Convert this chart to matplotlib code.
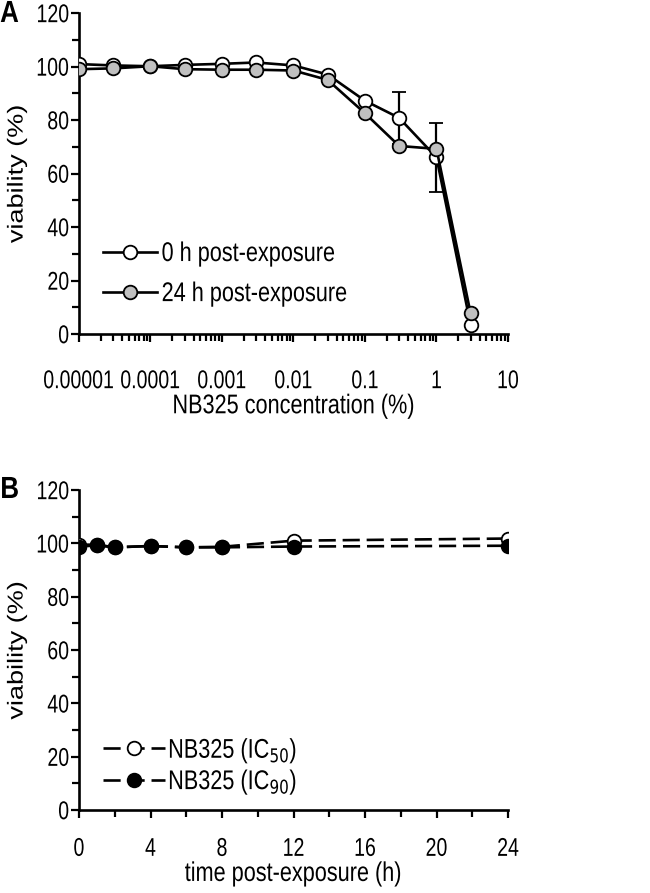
import numpy as np
import matplotlib
matplotlib.use("Agg")
import matplotlib.pyplot as plt
from matplotlib.ticker import FixedLocator, NullFormatter, MultipleLocator
from matplotlib.lines import Line2D
from matplotlib.patheffects import AbstractPathEffect
from matplotlib.transforms import Affine2D

plt.rcParams['font.family'] = ['Liberation Sans', 'DejaVu Sans']
FS = 19.5      # labels and legend
FS_TICK = 15   # tick labels (stretched taller when drawn)

# panel A: viability vs concentration
conc = [1e-5, 3e-5, 1e-4, 3e-4, 1e-3, 3e-3, 1e-2, 3e-2, 0.1, 0.3, 1, 3]
via_0h = [100.9, 100.4, 100.1, 100.6, 101.0, 101.5, 100.4, 97.0, 87.2, 80.8, 66.0, 3.4]
err_0h = [0, 0, 0, 0, 0, 0, 0, 0, 0, 9.6, 12.8, 0]
via_24h = [99.0, 99.3, 100.1, 99.0, 98.8, 98.8, 98.5, 95.0, 82.5, 70.3, 69.2, 7.7]
conc_ticks = [1e-5, 1e-4, 1e-3, 1e-2, 0.1, 1, 10]
conc_labels = ["0.00001", "0.0001", "0.001", "0.01", "0.1", "1", "10"]

# panel B: viability vs time
hours = [0, 1, 2, 4, 6, 8, 12, 24]
via_ic50 = [99.5, 99.5, 98.5, 99.0, 98.5, 98.7, 101.0, 101.8]
via_ic90 = [98.8, 99.2, 98.5, 99.0, 98.5, 98.5, 98.8, 99.1]


class Squeeze(AbstractPathEffect):
    # narrow the glyphs like the condensed lettering of the original
    def __init__(self, sx=0.8, sy=1.0, anchor="center"):
        super().__init__()
        self.sx, self.sy, self.anchor = sx, sy, anchor

    def draw_path(self, renderer, gc, tpath, affine, rgbFace=None):
        ext = tpath.get_extents()
        ax_ = {"left": ext.x0, "center": (ext.x0 + ext.x1) / 2, "right": ext.x1}[self.anchor]
        ay_ = (ext.y0 + ext.y1) / 2
        t = Affine2D().translate(-ax_, -ay_).scale(self.sx, self.sy).translate(ax_, ay_) + affine
        renderer.draw_path(gc, tpath, t, rgbFace)


fig = plt.figure(figsize=(6.5, 8.93), dpi=100)
W, H = 650, 893
axA = fig.add_axes([79 / W, 1 - 334 / H, (508 - 79) / W, (334 - 13) / H])
axB = fig.add_axes([79 / W, 1 - 810 / H, (508 - 79) / W, (810 - 490) / H])

ms = 9.8
lw = 1.9
dash = (0, (6.5, 2.6))

def style(ax):
    for s in ["top", "right"]:
        ax.spines[s].set_visible(False)
    for s in ["left", "bottom"]:
        ax.spines[s].set_linewidth(1.9)
    ax.tick_params(which="major", direction="out", length=6, width=1.6, labelsize=FS_TICK)
    ax.tick_params(which="minor", direction="out", length=5, width=1.6)
    ax.set_ylim(0, 120)
    ax.yaxis.set_major_locator(MultipleLocator(20))
    ax.yaxis.set_minor_locator(MultipleLocator(10))
    ax.tick_params(axis="y", pad=1)
    ax.set_ylabel("viability (%)", fontsize=FS, labelpad=3)

# ---- panel A
axA.set_xscale("log")
axA.errorbar(conc, via_0h, yerr=err_0h, color="black", lw=lw, marker="o", ms=ms,
             mfc="white", mec="black", mew=1.3, capsize=5, capthick=1.6, elinewidth=1.6,
             zorder=3)
axA.plot(conc, via_24h, color="black", lw=lw, marker="o", ms=ms,
         mfc="#c0c0c0", mec="black", mew=1.3, zorder=4)
axA.set_xlim(1e-5, 10)
axA.xaxis.set_major_locator(FixedLocator(conc_ticks))
axA.set_xticklabels(conc_labels)
minors = [m * 10.0 ** e for e in range(-5, 1) for m in range(2, 10)]
axA.xaxis.set_minor_locator(FixedLocator(minors))
axA.xaxis.set_minor_formatter(NullFormatter())
style(axA)
axA.tick_params(axis="x", which="major", pad=21)
axA.set_xlabel("NB325 concentration (%)", fontsize=FS, labelpad=2)

hA = [Line2D([], [], color="black", lw=lw, marker="o", ms=ms, mfc="white", mec="black", mew=1.3),
      Line2D([], [], color="black", lw=lw, marker="o", ms=ms, mfc="#c0c0c0", mec="black", mew=1.3)]
legA = axA.legend(hA, ["0 h post-exposure", "24 h post-exposure"], loc="lower left",
                  bbox_to_anchor=(0.031, 0.05), frameon=False, handlelength=2.0,
                  handletextpad=0.15, labelspacing=0.52, fontsize=FS, borderaxespad=0)

# ---- panel B
axB.plot(hours, via_ic50, color="black", lw=lw, ls=dash, marker="o", ms=ms,
         mfc="white", mec="black", mew=1.3, zorder=3)
axB.plot(hours, via_ic90, color="black", lw=lw, ls=dash, marker="o", ms=ms,
         mfc="black", mec="black", mew=1.3, zorder=4)
axB.set_xlim(0, 24)
axB.xaxis.set_major_locator(MultipleLocator(4))
axB.xaxis.set_minor_locator(MultipleLocator(2))
style(axB)
axB.tick_params(axis="x", which="major", pad=15)
axB.set_xlabel("time post-exposure (h)", fontsize=FS, labelpad=2)
hB = [Line2D([], [], color="black", lw=lw, ls=dash, marker="o", ms=ms, mfc="white", mec="black", mew=1.3),
      Line2D([], [], color="black", lw=lw, ls=dash, marker="o", ms=ms, mfc="black", mec="black", mew=1.3)]
legB = axB.legend(hB, ["NB325 (IC$_{50}$)", "NB325 (IC$_{90}$)"], loc="lower left",
                  bbox_to_anchor=(0.03, 0.006), frameon=False, handlelength=2.3,
                  handletextpad=0.1, labelspacing=0.05, fontsize=FS, borderaxespad=0)

tA = fig.text(0 / W, 1 - 14 / H, "A", fontsize=22, fontweight="bold", va="center", ha="left")
tB = fig.text(0 / W, 1 - 490 / H, "B", fontsize=22, fontweight="bold", va="center", ha="left")

fig.canvas.draw()
sy_t = 18.5 / FS_TICK
sx_t = 0.76 * sy_t
for ax in (axA, axB):
    for lbl in ax.get_xticklabels():
        lbl.set_path_effects([Squeeze(sx_t, sy_t, "center")])
    for lbl in ax.get_yticklabels():
        lbl.set_path_effects([Squeeze(sx_t, sy_t, "right")])
    ax.xaxis.label.set_path_effects([Squeeze(0.8, 1.0, "center")])
    ax.yaxis.label.set_path_effects([Squeeze(1.0, 0.8, "center")])
for leg in (legA, legB):
    for t in leg.get_texts():
        t.set_path_effects([Squeeze(0.8, 1.0, "left")])
for t in (tA, tB):
    t.set_path_effects([Squeeze(0.85, 1.0, "left")])

fig.savefig("out.png", dpi=100)
